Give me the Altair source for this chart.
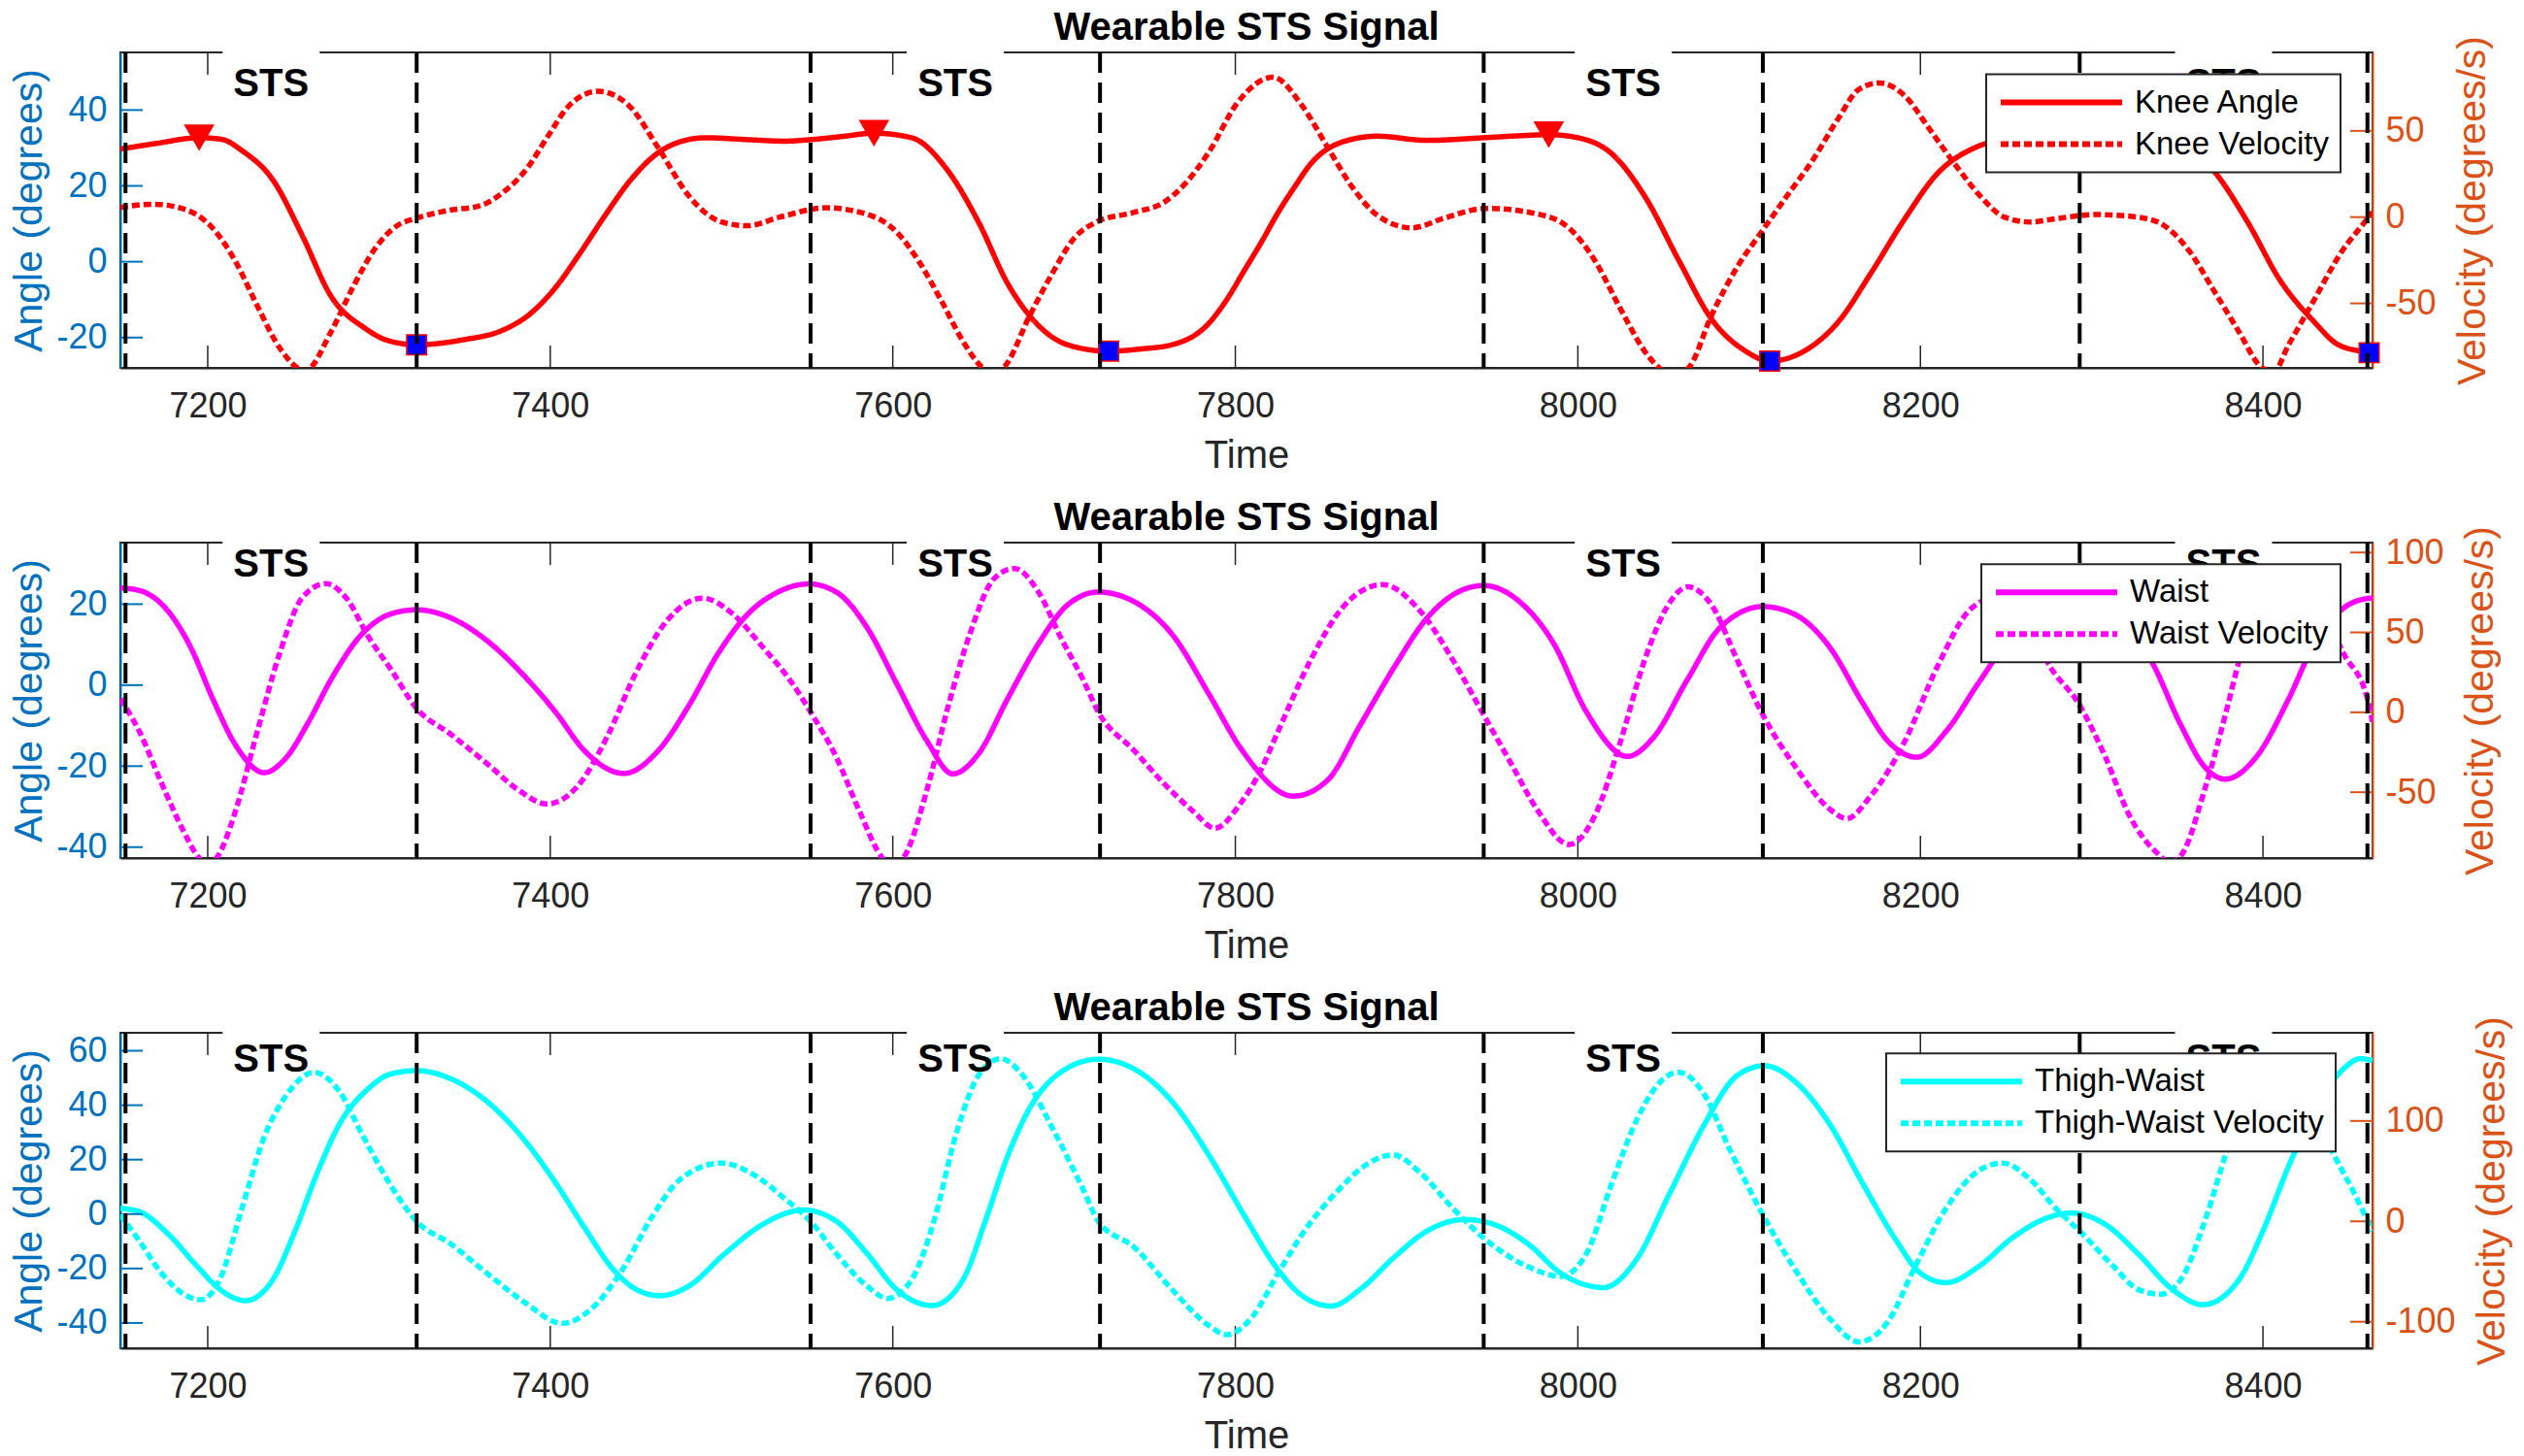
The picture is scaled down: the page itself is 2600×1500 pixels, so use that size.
import altair as alt
import pandas as pd

FONT = "Liberation Sans"
GRAY = "#262626"
BLUE = "#0072BD"
ORANGE = "#D95319"

# ---------------- data ----------------
x_domain = [7149, 8464]
x_ticks = [7200, 7400, 7600, 7800, 8000, 8200, 8400]
sts_bounds = [7152, 7322, 7552, 7721, 7945, 8108, 8293, 8461]
title_text = "Wearable STS Signal"

knee_t = [7149, 7170, 7195, 7208, 7220, 7238, 7255, 7272, 7292, 7304, 7322, 7349, 7372, 7387, 7402, 7417, 7432, 7447, 7462, 7477,
          7491, 7515, 7537, 7552, 7570, 7589, 7611, 7632, 7650, 7667, 7685, 7702, 7726, 7745, 7763, 7784, 7795, 7805, 7815, 7825,
          7835, 7844, 7864, 7883, 7912, 7945, 7965, 7983, 8000, 8020, 8039, 8059, 8078, 8098, 8112, 8132, 8152, 8171, 8191, 8210,
          8230, 8250, 8275, 8300, 8328, 8350, 8371, 8391, 8410, 8430, 8444, 8462, 8464]
knee_angle = [29.7, 31.2, 32.7, 32.3, 29.3, 21.6, 7.1, -9.1, -17.6, -20.6, -21.9, -20.6, -18.1, -14.2, -7.4, 2.0, 12.2, 21.6, 28.4, 31.8,
              32.7, 32.2, 31.8, 32.2, 33.0, 33.9, 32.7, 24.1, 10.5, -5.7, -16.8, -21.9, -23.6, -23.0, -21.9, -16.5, -10.0, -2.5, 5.0, 13.0,
              20.0, 25.8, 31.8, 33.1, 32.0, 32.7, 33.2, 33.5, 32.7, 28.4, 17.3, 0.3, -15.1, -23.6, -26.2, -23.6, -15.9, -3.1, 11.4, 23.3,
              29.7, 32.0, 31.8, 32.2, 33.5, 31.5, 24.1, 10.5, -4.9, -15.9, -21.9, -24.0, -24.2]

knee_vel_t = [7149, 7168, 7186, 7203, 7216, 7229, 7242, 7257, 7272, 7285, 7298, 7311, 7321, 7340, 7359, 7372, 7387, 7398, 7411, 7428,
              7446, 7463, 7481, 7500, 7515, 7534, 7561, 7587, 7602, 7615, 7628, 7641, 7652, 7658, 7665, 7680, 7693, 7706, 7719, 7741,
              7758, 7771, 7785, 7801, 7822, 7839, 7854, 7868, 7883, 7903, 7922, 7946, 7976, 7995, 8010, 8025, 8039, 8047, 8056, 8065,
              8078, 8093, 8108, 8122, 8137, 8152, 8164, 8176, 8191, 8205, 8220, 8235, 8249, 8264, 8279, 8303, 8327, 8342, 8357, 8371,
              8386, 8398, 8406, 8415, 8430, 8445, 8461, 8464]
knee_vel = [5.6, 7.5, 4.7, -6.5, -25.3, -51.5, -75.8, -89.0, -66.5, -40.2, -17.8, -4.7, -0.9, 3.8, 6.6, 14.0, 29.0, 45.9, 64.6, 73.0,
            64.6, 40.3, 12.2, -2.8, -5.0, 0.0, 5.4, 1.0, -8.4, -25.3, -47.8, -72.0, -87.0, -91.0, -87.0, -57.0, -32.8, -12.1, -2.8, 2.8,
            8.4, 19.7, 38.4, 66.0, 81.1, 64.6, 40.3, 17.8, 1.0, -6.2, -0.6, 5.1, 1.9, -6.5, -25.3, -53.4, -77.7, -87.0, -92.0, -87.0,
            -57.0, -29.0, -7.5, 12.2, 32.8, 57.1, 74.0, 77.8, 70.2, 51.5, 30.9, 12.2, 0.0, -2.8, -0.9, 1.5, 0.0, -4.7, -19.7, -42.0,
            -66.5, -86.0, -90.0, -74.0, -47.8, -21.5, -0.9, 3.0]

peak_t = [7195, 7589, 7983]
peak_angle = [32.7, 33.9, 33.5]
valley_t = [7322, 7726, 8112, 8462]
valley_angle = [-21.9, -23.6, -26.2, -24.0]

waist_t = [7149, 7160, 7177, 7190, 7203, 7216, 7233, 7246, 7259, 7272, 7290, 7307, 7322, 7342, 7363, 7385, 7403, 7420, 7443, 7463,
           7481, 7498, 7515, 7533, 7551, 7567, 7585, 7602, 7620, 7635, 7650, 7667, 7685, 7702, 7720, 7741, 7763, 7785, 7803, 7834,
           7854, 7873, 7893, 7912, 7932, 7945, 7966, 7986, 8005, 8029, 8044, 8064, 8083, 8108, 8127, 8147, 8166, 8181, 8198, 8215,
           8234, 8255, 8275, 8293, 8315, 8335, 8352, 8366, 8378, 8396, 8415, 8430, 8447, 8461, 8464]
waist_angle = [24.0, 23.4, 18.2, 9.4, -3.4, -14.6, -21.6, -17.8, -9.0, 1.4, 12.6, 17.6, 18.6, 16.6, 11.0, 2.2, -6.6, -16.2, -21.8, -16.2,
               -5.0, 7.8, 17.4, 23.0, 25.0, 23.0, 14.2, 0.6, -13.8, -21.9, -17.0, -3.4, 10.2, 19.8, 23.0, 20.6, 12.6, -2.5, -15.5, -27.4,
               -23.4, -9.8, 4.6, 16.6, 23.4, 24.6, 20.6, 10.2, -6.6, -17.6, -13.0, 1.4, 14.2, 19.4, 17.4, 9.4, -4.2, -13.8, -17.8, -11.4,
               0.6, 13.0, 19.5, 21.0, 16.0, 5.8, -9.8, -20.2, -23.2, -17.8, -3.4, 10.2, 19.0, 21.4, 21.5]

waist_vel_t = [7149, 7160, 7173, 7186, 7194, 7200, 7206, 7216, 7229, 7242, 7255, 7269, 7281, 7294, 7307, 7322, 7342, 7363, 7381, 7398,
               7416, 7433, 7450, 7468, 7489, 7507, 7524, 7541, 7552, 7567, 7580, 7593, 7600, 7607, 7620, 7632, 7645, 7659, 7671, 7685,
               7698, 7711, 7720, 7741, 7758, 7776, 7788, 7803, 7814, 7825, 7844, 7864, 7886, 7908, 7927, 7945, 7961, 7976, 7995, 8010,
               8025, 8039, 8054, 8064, 8078, 8093, 8108, 8127, 8147, 8157, 8171, 8191, 8210, 8230, 8250, 8262, 8274, 8293, 8308, 8322,
               8340, 8345, 8352, 8366, 8379, 8386, 8400, 8415, 8432, 8447, 8461, 8464]
waist_vel = [8.5, -11.8, -44.2, -74.6, -89.8, -95.0, -89.8, -62.5, -11.8, 36.9, 71.4, 80.5, 71.4, 47.0, 26.8, 2.4, -13.8, -32.0, -48.3, -57.4,
             -46.2, -15.8, 24.7, 57.2, 71.4, 61.2, 40.9, 18.6, 0.2, -28.0, -60.5, -89.8, -97.0, -89.8, -48.3, 2.4, 49.0, 83.5, 90.0, 75.4,
             47.0, 20.7, 0.2, -24.0, -44.2, -62.5, -72.6, -57.0, -38.0, -11.8, 32.8, 67.3, 79.9, 63.3, 32.8, -1.6, -32.0, -60.5, -82.7, -64.5,
             -17.9, 32.8, 69.3, 78.5, 67.3, 32.8, -1.6, -34.1, -60.5, -66.5, -52.3, -17.9, 28.8, 65.3, 74.0, 60.0, 31.8, 4.4, -28.0, -64.5,
             -89.8, -94.0, -89.8, -48.3, 2.4, 31.8, 70.0, 82.0, 70.0, 36.9, 8.5, -6.0]

thigh_t = [7149, 7160, 7177, 7194, 7207, 7222, 7238, 7251, 7264, 7277, 7294, 7307, 7322, 7342, 7363, 7385, 7403, 7420, 7437, 7450,
           7464, 7481, 7502, 7524, 7548, 7567, 7585, 7602, 7623, 7641, 7654, 7667, 7680, 7698, 7720, 7741, 7763, 7785, 7805, 7825,
           7839, 7856, 7873, 7893, 7912, 7934, 7951, 7971, 7990, 8015, 8034, 8054, 8074, 8093, 8109, 8127, 8147, 8166, 8186, 8200,
           8215, 8234, 8254, 8274, 8288, 8308, 8327, 8347, 8365, 8386, 8400, 8415, 8430, 8447, 8457, 8464]
thigh_angle = [2.1, 0.9, -7.4, -19.3, -27.6, -31.8, -24.1, -6.2, 15.2, 33.1, 46.2, 51.5, 52.7, 49.7, 41.4, 27.1, 11.6, -5.0, -20.5, -27.6,
               -30.0, -26.4, -14.5, -3.8, 1.5, -2.6, -14.5, -27.6, -33.6, -24.1, -2.6, 21.2, 39.0, 52.1, 56.9, 53.3, 41.4, 21.2, -0.3, -20.5,
               -30.0, -33.8, -27.6, -15.7, -6.2, -2.0, -3.8, -11.0, -21.7, -27.0, -16.9, 8.1, 33.1, 50.9, 54.5, 48.6, 33.1, 11.6, -9.8, -21.7,
               -25.2, -19.3, -8.6, -1.4, 0.4, -3.8, -14.5, -27.6, -33.3, -24.1, -6.2, 17.6, 38.0, 53.3, 57.1, 56.4]

thigh_vel_t = [7149, 7160, 7173, 7186, 7196, 7207, 7220, 7233, 7246, 7262, 7277, 7290, 7307, 7322, 7342, 7363, 7385, 7407, 7424, 7442,
               7459, 7476, 7500, 7520, 7537, 7552, 7567, 7585, 7597, 7611, 7624, 7637, 7650, 7663, 7676, 7693, 7711, 7720, 7741, 7763,
               7784, 7795, 7810, 7825, 7839, 7859, 7878, 7892, 7908, 7927, 7947, 7971, 7990, 8005, 8020, 8035, 8050, 8059, 8074, 8088,
               8108, 8127, 8147, 8164, 8181, 8196, 8215, 8235, 8248, 8264, 8279, 8293, 8313, 8327, 8340, 8352, 8366, 8379, 8393, 8408,
               8424, 8440, 8452, 8464]
thigh_vel = [6.5, -19.4, -51.6, -72.6, -78.0, -58.1, 13.0, 84.0, 125.8, 148.5, 129.1, 87.1, 35.5, 0.0, -22.6, -51.6, -80.6, -101.6, -87.1, -48.4,
             3.3, 42.0, 58.1, 45.2, 22.6, 0.0, -32.2, -64.5, -76.8, -58.1, 0.0, 87.1, 145.2, 162.0, 145.2, 93.6, 32.3, 0.0, -25.8, -67.8,
             -103.2, -112.9, -95.0, -51.6, -12.9, 29.0, 58.1, 66.2, 48.4, 13.0, -19.4, -45.2, -54.8, -32.2, 38.7, 103.3, 142.0, 148.5, 125.8, 74.2,
             6.5, -48.4, -96.8, -120.0, -100.0, -48.4, 13.0, 51.6, 58.1, 42.0, 13.0, -9.7, -45.2, -67.8, -72.6, -58.1, 0.0, 71.0, 140.0, 158.0,
             130.0, 71.0, 32.3, -9.7]

panel_specs = [
    dict(names=["Knee Angle", "Knee Velocity"], color="#FF0000",
         ang=(knee_t, knee_angle), vel=(knee_vel_t, knee_vel),
         ldom=[-28.0, 55.2], rdom=[-87.4, 95.5], lticks=[-20, 0, 20, 40], rticks=[-50, 0, 50],
         sts_y=46.7, leg=(1922, 22.6), markers=True),
    dict(names=["Waist", "Waist Velocity"], color="#FF00FF",
         ang=(waist_t, waist_angle), vel=(waist_vel_t, waist_vel),
         ldom=[-42.7, 35.2], rdom=[-91.2, 106.2], lticks=[-40, -20, 0, 20], rticks=[-50, 0, 50, 100],
         sts_y=29.8, leg=(1917, 22.3), markers=False),
    dict(names=["Thigh-Waist", "Thigh-Waist Velocity"], color="#00FFFF",
         ang=(thigh_t, thigh_angle), vel=(thigh_vel_t, thigh_vel),
         ldom=[-49.3, 66.6], rdom=[-126.4, 187.8], lticks=[-40, -20, 0, 20, 40, 60], rticks=[-100, 0, 100],
         sts_y=56.6, leg=(1819, 21.3), markers=False),
]

W, H = 2320, 325
TICK = 23
LBL = "datum.value + ''"
BOX = "M-1,-0.76L1,-0.76L1,0.76L-1,0.76Z"


def make_panel(spec):
    names = spec["names"]
    xs = alt.Scale(domain=x_domain, nice=False, zero=False)
    ls = alt.Scale(domain=spec["ldom"], nice=False, zero=False)
    rs = alt.Scale(domain=spec["rdom"], nice=False, zero=False)

    legend = alt.Legend(title=None, orient="none", legendX=spec["leg"][0], legendY=spec["leg"][1],
                        fillColor="white", strokeColor=GRAY, padding=12, labelFontSize=33,
                        labelColor="black", labelFont=FONT, labelLimit=800, symbolType="stroke",
                        symbolSize=15625, symbolStrokeWidth=6, clipHeight=34, rowPadding=9,
                        labelOffset=10, direction="vertical")
    color = alt.Color("series:N", scale=alt.Scale(domain=names, range=[spec["color"], spec["color"]]), legend=legend)
    dash = alt.StrokeDash("series:N", scale=alt.Scale(domain=names, range=[[1, 0], [8, 4]]), legend=legend)

    x_axis = alt.Axis(values=x_ticks, ticks=False, grid=False, domainColor=GRAY, domainWidth=2,
                      labelColor=GRAY, labelFontSize=36, labelPadding=22, labelExpr=LBL, labelFlush=False,
                      title="Time", titleColor=GRAY, titleFontSize=40, titleFontWeight="normal", titlePadding=13,
                      orient="bottom")
    X = alt.X("t:Q", scale=xs, axis=x_axis)

    def ly(axis=None):
        return alt.Y("y:Q", scale=ls, axis=axis)

    def ry(axis=None):
        return alt.Y("y:Q", scale=rs, axis=axis)

    ang_df = pd.DataFrame({"t": spec["ang"][0], "y": spec["ang"][1], "series": names[0]})
    vel_df = pd.DataFrame({"t": spec["vel"][0], "y": spec["vel"][1], "series": names[1]})
    xt_df = pd.DataFrame({"t": x_ticks})
    lt_df = pd.DataFrame({"y": spec["lticks"]})
    rt_df = pd.DataFrame({"y": spec["rticks"]})
    mids = [(sts_bounds[i] + sts_bounds[i + 1]) / 2 for i in range(0, len(sts_bounds), 2)]
    sts_df = pd.DataFrame({"t": mids, "y": [spec["sts_y"]] * len(mids), "label": ["STS"] * len(mids)})
    bnd_df = pd.DataFrame({"t": sts_bounds})
    ttl_df = pd.DataFrame({"t": [(x_domain[0] + x_domain[1]) / 2], "label": [title_text]})

    y_left_axis = alt.Axis(orient="left", values=spec["lticks"], ticks=False, grid=False,
                           domainColor=BLUE, domainWidth=2, labelColor=BLUE, labelFontSize=36,
                           labelPadding=14, labelExpr=LBL, title="Angle (degrees)", titleColor=BLUE,
                           titleFontSize=41, titleFontWeight="normal", titlePadding=6)
    y_right_axis = alt.Axis(orient="right", values=spec["rticks"], ticks=False, grid=False,
                            domainColor=ORANGE, domainWidth=2, labelColor=ORANGE, labelFontSize=36,
                            labelPadding=13, labelExpr=LBL, title="Velocity (degrees/s)", titleColor=ORANGE,
                            titleFontSize=41, titleFontWeight="normal", titlePadding=18,
                            titleAngle=270, titleBaseline="top")

    ang_line = alt.Chart(ang_df).mark_line(strokeWidth=5.5, clip=True, interpolate="monotone").encode(
        x=X, y=ly(y_left_axis), color=color, strokeDash=dash)
    vel_line = alt.Chart(vel_df).mark_line(strokeWidth=5.5, clip=True, interpolate="monotone").encode(
        x=X, y=ry(y_right_axis), color=color, strokeDash=dash)

    xt_bottom = alt.Chart(xt_df).mark_rule(color=GRAY, strokeWidth=1.5).encode(
        x=X, y=alt.value(H), y2=alt.value(H - TICK))
    xt_top = alt.Chart(xt_df).mark_rule(color=GRAY, strokeWidth=1.5).encode(
        x=X, y=alt.value(0), y2=alt.value(TICK))
    lt = alt.Chart(lt_df).mark_rule(color=BLUE, strokeWidth=2).encode(
        y=ly(), x=alt.value(0), x2=alt.value(TICK))
    rt = alt.Chart(rt_df).mark_rule(color=ORANGE, strokeWidth=2).encode(
        y=ry(), x=alt.value(W - TICK), x2=alt.value(W))
    boxes = alt.Chart(sts_df).mark_point(shape=BOX, size=10000, filled=True, color="white",
                                         opacity=1, strokeWidth=0).encode(x=X, y=ly())

    extra = []
    if spec["markers"]:
        tri_df = pd.DataFrame({"t": peak_t, "y": peak_angle})
        sq_df = pd.DataFrame({"t": valley_t, "y": valley_angle})
        tri = alt.Chart(tri_df).mark_point(shape="triangle-down", size=1000, filled=True,
                                           color="#FF0000", opacity=1).encode(x=X, y=ly())
        sq = alt.Chart(sq_df).mark_point(shape="square", size=420, filled=True, fill="#0000FF",
                                         stroke="#FF0000", strokeWidth=1.5, opacity=1).encode(x=X, y=ly())
        extra = [tri, sq]
    rules = alt.Chart(bnd_df).mark_rule(color="black", strokeWidth=4, strokeDash=[21, 10]).encode(x=X)
    labels = alt.Chart(sts_df).mark_text(font=FONT, fontSize=40, fontWeight="bold", color="black",
                                         baseline="middle", align="center").encode(
        x=X, y=ly(), text="label:N")
    ttl = alt.Chart(ttl_df).mark_text(font=FONT, fontSize=40, fontWeight="bold", color="black",
                                      baseline="alphabetic", align="center").encode(
        x=X, y=alt.value(-13), text="label:N")

    all_layers = [ang_line, xt_bottom, xt_top, lt, rt, boxes, vel_line] + extra + [rules, labels, ttl]
    return alt.layer(*all_layers).resolve_scale(y="independent").properties(width=W, height=H)


panels = [make_panel(s) for s in panel_specs]

chart = alt.vconcat(*panels, spacing=180, bounds="flush").resolve_scale(
    color="independent", strokeDash="independent"
).properties(
    padding={"left": 0, "top": 0, "right": 0, "bottom": 0}
).configure(
    font=FONT
).configure_view(
    stroke=GRAY, strokeWidth=2
).configure_legend(
    strokeWidth=2
)

chart.save("out.html", embed_options={"renderer": "svg", "actions": False})
